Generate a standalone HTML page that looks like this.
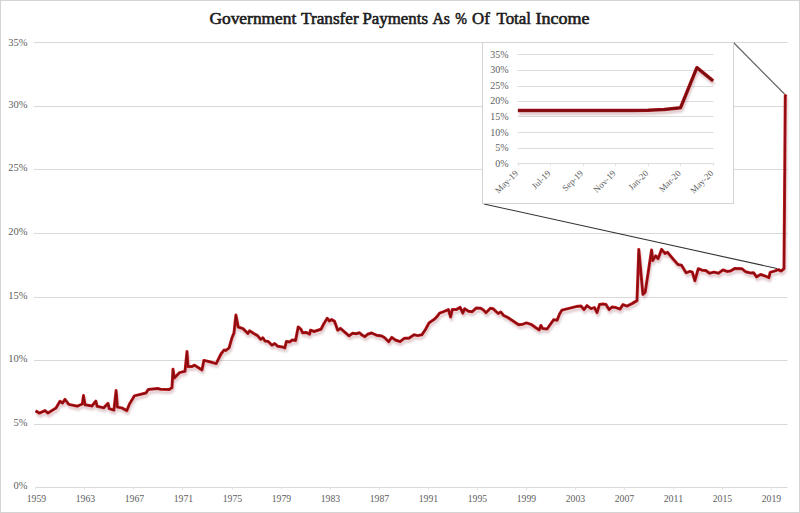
<!DOCTYPE html>
<html><head><meta charset="utf-8">
<style>
html,body{margin:0;padding:0;background:#fff;}
body{width:800px;height:513px;overflow:hidden;position:relative;}
svg{position:absolute;left:0;top:0;display:block;}
.t{font-family:"Liberation Serif",serif;font-weight:normal;font-size:16px;fill:#1a1a1a;stroke:#1a1a1a;stroke-width:0.55px;}
.yl{font-family:"Liberation Serif",serif;font-size:10.5px;fill:#606060;}
.xl{font-family:"Liberation Serif",serif;font-size:11px;fill:#606060;}
.iyl{font-family:"Liberation Serif",serif;font-size:10px;fill:#606060;}
.il{font-family:"Liberation Serif",serif;font-size:9px;fill:#606060;}
</style></head>
<body>
<svg width="800" height="513" viewBox="0 0 800 513">
<defs>
<filter id="sh" x="-5%" y="-5%" width="110%" height="120%">
<feGaussianBlur in="SourceAlpha" stdDeviation="1.3"/>
<feOffset dx="1" dy="2.5" result="b"/>
<feFlood flood-color="#b07880" flood-opacity="0.4"/>
<feComposite in2="b" operator="in"/>
<feMerge><feMergeNode/><feMergeNode in="SourceGraphic"/></feMerge>
</filter>
</defs>
<rect x="0.5" y="0.5" width="799" height="512" fill="#fff" stroke="#d4d4d4" stroke-width="1"/>
<text x="209.4" y="23.5" class="t" textLength="87" lengthAdjust="spacingAndGlyphs">Government</text>
<text x="301" y="23.5" class="t" textLength="57.7" lengthAdjust="spacingAndGlyphs">Transfer</text>
<text x="362.5" y="23.5" class="t" textLength="65.5" lengthAdjust="spacingAndGlyphs">Payments</text>
<text x="432.5" y="23.5" class="t" textLength="17.5" lengthAdjust="spacingAndGlyphs">As</text>
<text x="455.3" y="23.5" class="t" textLength="11.7" lengthAdjust="spacingAndGlyphs">%</text>
<text x="472" y="23.5" class="t" textLength="17.75" lengthAdjust="spacingAndGlyphs">Of</text>
<text x="496.5" y="23.5" class="t" textLength="34.5" lengthAdjust="spacingAndGlyphs">Total</text>
<text x="535.5" y="23.5" class="t" textLength="54" lengthAdjust="spacingAndGlyphs">Income</text>
<line x1="34" y1="424.5" x2="787.5" y2="424.5" stroke="#d9d9d9" stroke-width="1"/>
<line x1="34" y1="360.5" x2="787.5" y2="360.5" stroke="#d9d9d9" stroke-width="1"/>
<line x1="34" y1="297.5" x2="787.5" y2="297.5" stroke="#d9d9d9" stroke-width="1"/>
<line x1="34" y1="233.5" x2="787.5" y2="233.5" stroke="#d9d9d9" stroke-width="1"/>
<line x1="34" y1="169.5" x2="787.5" y2="169.5" stroke="#d9d9d9" stroke-width="1"/>
<line x1="34" y1="106.5" x2="787.5" y2="106.5" stroke="#d9d9d9" stroke-width="1"/>
<line x1="34" y1="42.5" x2="787.5" y2="42.5" stroke="#d9d9d9" stroke-width="1"/>
<line x1="35" y1="487.5" x2="787.5" y2="487.5" stroke="#d9d9d9" stroke-width="1"/>
<line x1="35.5" y1="487" x2="35.5" y2="490" stroke="#e6e6e6" stroke-width="1"/>
<line x1="84.5" y1="487" x2="84.5" y2="490" stroke="#e6e6e6" stroke-width="1"/>
<line x1="133.5" y1="487" x2="133.5" y2="490" stroke="#e6e6e6" stroke-width="1"/>
<line x1="182.5" y1="487" x2="182.5" y2="490" stroke="#e6e6e6" stroke-width="1"/>
<line x1="232.5" y1="487" x2="232.5" y2="490" stroke="#e6e6e6" stroke-width="1"/>
<line x1="281.5" y1="487" x2="281.5" y2="490" stroke="#e6e6e6" stroke-width="1"/>
<line x1="330.5" y1="487" x2="330.5" y2="490" stroke="#e6e6e6" stroke-width="1"/>
<line x1="379.5" y1="487" x2="379.5" y2="490" stroke="#e6e6e6" stroke-width="1"/>
<line x1="428.5" y1="487" x2="428.5" y2="490" stroke="#e6e6e6" stroke-width="1"/>
<line x1="477.5" y1="487" x2="477.5" y2="490" stroke="#e6e6e6" stroke-width="1"/>
<line x1="526.5" y1="487" x2="526.5" y2="490" stroke="#e6e6e6" stroke-width="1"/>
<line x1="575.5" y1="487" x2="575.5" y2="490" stroke="#e6e6e6" stroke-width="1"/>
<line x1="624.5" y1="487" x2="624.5" y2="490" stroke="#e6e6e6" stroke-width="1"/>
<line x1="673.5" y1="487" x2="673.5" y2="490" stroke="#e6e6e6" stroke-width="1"/>
<line x1="722.5" y1="487" x2="722.5" y2="490" stroke="#e6e6e6" stroke-width="1"/>
<line x1="771.5" y1="487" x2="771.5" y2="490" stroke="#e6e6e6" stroke-width="1"/>
<text x="27.5" y="489.4" text-anchor="end" class="yl">0%</text>
<text x="27.5" y="426.4" text-anchor="end" class="yl">5%</text>
<text x="27.5" y="362.4" text-anchor="end" class="yl">10%</text>
<text x="27.5" y="299.4" text-anchor="end" class="yl">15%</text>
<text x="27.5" y="235.4" text-anchor="end" class="yl">20%</text>
<text x="27.5" y="171.4" text-anchor="end" class="yl">25%</text>
<text x="27.5" y="108.4" text-anchor="end" class="yl">30%</text>
<text x="27.5" y="45.7" text-anchor="end" class="yl">35%</text>
<text x="36.4" y="502.4" text-anchor="middle" class="xl" textLength="19.5" lengthAdjust="spacingAndGlyphs">1959</text>
<text x="85.4" y="502.4" text-anchor="middle" class="xl" textLength="19.5" lengthAdjust="spacingAndGlyphs">1963</text>
<text x="134.4" y="502.4" text-anchor="middle" class="xl" textLength="19.5" lengthAdjust="spacingAndGlyphs">1967</text>
<text x="183.4" y="502.4" text-anchor="middle" class="xl" textLength="19.5" lengthAdjust="spacingAndGlyphs">1971</text>
<text x="232.4" y="502.4" text-anchor="middle" class="xl" textLength="19.5" lengthAdjust="spacingAndGlyphs">1975</text>
<text x="281.4" y="502.4" text-anchor="middle" class="xl" textLength="19.5" lengthAdjust="spacingAndGlyphs">1979</text>
<text x="330.4" y="502.4" text-anchor="middle" class="xl" textLength="19.5" lengthAdjust="spacingAndGlyphs">1983</text>
<text x="379.4" y="502.4" text-anchor="middle" class="xl" textLength="19.5" lengthAdjust="spacingAndGlyphs">1987</text>
<text x="428.4" y="502.4" text-anchor="middle" class="xl" textLength="19.5" lengthAdjust="spacingAndGlyphs">1991</text>
<text x="477.4" y="502.4" text-anchor="middle" class="xl" textLength="19.5" lengthAdjust="spacingAndGlyphs">1995</text>
<text x="526.4" y="502.4" text-anchor="middle" class="xl" textLength="19.5" lengthAdjust="spacingAndGlyphs">1999</text>
<text x="575.4" y="502.4" text-anchor="middle" class="xl" textLength="19.5" lengthAdjust="spacingAndGlyphs">2003</text>
<text x="624.4" y="502.4" text-anchor="middle" class="xl" textLength="19.5" lengthAdjust="spacingAndGlyphs">2007</text>
<text x="673.4" y="502.4" text-anchor="middle" class="xl" textLength="19.5" lengthAdjust="spacingAndGlyphs">2011</text>
<text x="722.4" y="502.4" text-anchor="middle" class="xl" textLength="19.5" lengthAdjust="spacingAndGlyphs">2015</text>
<text x="771.4" y="502.4" text-anchor="middle" class="xl" textLength="19.5" lengthAdjust="spacingAndGlyphs">2019</text>
<g filter="url(#sh)"><path d="M35.6,410.9 L39.4,413.1 L45.0,410.6 L48.0,413.1 L56.0,408.1 L60.0,401.2 L62.5,403.1 L65.0,399.4 L68.8,404.4 L77.5,406.2 L82.3,404.0 L83.5,395.6 L85.0,404.8 L92.0,406.0 L95.8,401.1 L97.1,406.3 L103.7,407.9 L108.0,403.4 L109.2,408.6 L113.9,410.2 L116.1,390.6 L117.4,407.1 L121.7,407.9 L126.8,410.6 L129.5,404.0 L133.0,398.2 L134.4,395.9 L146.0,393.0 L148.4,389.4 L157.7,388.5 L160.5,389.2 L169.4,389.4 L172.0,387.6 L173.0,369.2 L174.2,378.1 L179.6,372.6 L185.0,371.3 L187.0,351.6 L188.0,366.6 L191.8,366.6 L194.6,365.2 L202.0,369.9 L203.9,360.4 L209.6,361.7 L216.2,363.6 L221.0,354.0 L224.0,350.1 L226.0,350.4 L229.1,347.9 L231.8,338.3 L234.0,332.9 L235.9,315.1 L238.2,327.0 L243.0,328.6 L247.9,333.5 L249.5,330.8 L253.8,333.5 L257.5,335.6 L260.7,339.4 L262.9,337.8 L265.0,341.0 L268.2,341.5 L272.0,345.3 L274.7,343.6 L277.9,346.3 L282.2,346.9 L284.8,347.9 L286.4,341.5 L289.7,342.0 L292.3,339.9 L295.6,340.4 L298.2,327.0 L300.9,329.2 L302.6,332.8 L306.1,332.4 L309.6,334.1 L310.5,330.2 L314.0,331.5 L321.0,329.3 L323.7,324.0 L327.2,318.3 L329.4,321.0 L331.6,319.6 L334.6,321.4 L337.7,330.2 L340.4,328.4 L349.1,335.9 L352.6,333.2 L356.1,333.7 L359.6,332.8 L361.4,334.6 L364.9,336.7 L367.6,334.3 L371.6,333.0 L376.4,335.2 L381.7,336.0 L384.7,337.8 L388.7,341.7 L391.8,337.4 L395.3,340.0 L400.1,341.7 L404.5,338.2 L408.9,338.2 L414.1,334.7 L417.6,335.6 L422.0,334.7 L425.5,329.5 L429.0,322.9 L431.7,321.1 L434.4,319.2 L437.0,316.6 L439.6,313.1 L443.1,311.8 L448.4,309.6 L450.6,317.0 L452.3,309.6 L456.2,309.6 L460.2,307.4 L462.8,313.1 L464.6,308.7 L468.5,311.3 L472.0,311.8 L476.4,307.9 L480.7,308.3 L483.4,310.0 L486.0,312.7 L490.4,308.3 L493.0,308.7 L498.2,313.5 L500.7,312.0 L503.7,315.5 L508.1,317.7 L513.4,321.2 L518.6,324.7 L523.0,324.2 L526.5,322.9 L531.7,324.7 L535.2,327.3 L539.2,329.9 L540.9,325.5 L542.7,328.6 L547.1,329.0 L549.2,326.0 L553.6,319.8 L557.1,320.3 L559.7,313.7 L561.9,310.2 L564.0,309.6 L570.0,308.1 L576.0,306.6 L581.0,306.1 L584.0,309.6 L587.0,305.6 L591.0,308.6 L594.5,307.6 L597.0,312.6 L599.5,304.6 L603.0,304.1 L606.0,304.6 L609.0,309.6 L612.0,307.1 L616.0,307.6 L620.0,309.1 L623.0,304.6 L627.0,306.1 L632.0,303.6 L637.0,300.6 L638.8,249.4 L642.9,294.4 L645.2,292.1 L651.6,250.0 L652.8,260.5 L655.7,255.8 L658.1,258.7 L661.6,249.4 L665.1,253.5 L667.4,252.3 L673.3,259.3 L678.0,264.6 L681.5,265.2 L686.1,272.8 L690.0,271.4 L692.3,272.1 L694.9,280.7 L698.3,268.7 L702.0,270.2 L705.8,270.6 L709.5,273.2 L714.0,272.1 L718.5,273.2 L723.0,269.9 L726.8,271.4 L730.5,271.0 L735.0,268.4 L741.8,268.7 L745.5,271.7 L751.0,273.1 L753.7,272.8 L756.5,276.9 L760.6,274.5 L765.4,276.2 L768.9,277.6 L770.2,272.4 L774.4,271.1 L778.5,269.7 L781.2,271.1 L784.0,268.7 L785.3,95.4 L786.2,96.6" fill="none" stroke="#bd161c" stroke-width="3.0" stroke-linejoin="round"/>
<path d="M35.6,410.9 L39.4,413.1 L45.0,410.6 L48.0,413.1 L56.0,408.1 L60.0,401.2 L62.5,403.1 L65.0,399.4 L68.8,404.4 L77.5,406.2 L82.3,404.0 L83.5,395.6 L85.0,404.8 L92.0,406.0 L95.8,401.1 L97.1,406.3 L103.7,407.9 L108.0,403.4 L109.2,408.6 L113.9,410.2 L116.1,390.6 L117.4,407.1 L121.7,407.9 L126.8,410.6 L129.5,404.0 L133.0,398.2 L134.4,395.9 L146.0,393.0 L148.4,389.4 L157.7,388.5 L160.5,389.2 L169.4,389.4 L172.0,387.6 L173.0,369.2 L174.2,378.1 L179.6,372.6 L185.0,371.3 L187.0,351.6 L188.0,366.6 L191.8,366.6 L194.6,365.2 L202.0,369.9 L203.9,360.4 L209.6,361.7 L216.2,363.6 L221.0,354.0 L224.0,350.1 L226.0,350.4 L229.1,347.9 L231.8,338.3 L234.0,332.9 L235.9,315.1 L238.2,327.0 L243.0,328.6 L247.9,333.5 L249.5,330.8 L253.8,333.5 L257.5,335.6 L260.7,339.4 L262.9,337.8 L265.0,341.0 L268.2,341.5 L272.0,345.3 L274.7,343.6 L277.9,346.3 L282.2,346.9 L284.8,347.9 L286.4,341.5 L289.7,342.0 L292.3,339.9 L295.6,340.4 L298.2,327.0 L300.9,329.2 L302.6,332.8 L306.1,332.4 L309.6,334.1 L310.5,330.2 L314.0,331.5 L321.0,329.3 L323.7,324.0 L327.2,318.3 L329.4,321.0 L331.6,319.6 L334.6,321.4 L337.7,330.2 L340.4,328.4 L349.1,335.9 L352.6,333.2 L356.1,333.7 L359.6,332.8 L361.4,334.6 L364.9,336.7 L367.6,334.3 L371.6,333.0 L376.4,335.2 L381.7,336.0 L384.7,337.8 L388.7,341.7 L391.8,337.4 L395.3,340.0 L400.1,341.7 L404.5,338.2 L408.9,338.2 L414.1,334.7 L417.6,335.6 L422.0,334.7 L425.5,329.5 L429.0,322.9 L431.7,321.1 L434.4,319.2 L437.0,316.6 L439.6,313.1 L443.1,311.8 L448.4,309.6 L450.6,317.0 L452.3,309.6 L456.2,309.6 L460.2,307.4 L462.8,313.1 L464.6,308.7 L468.5,311.3 L472.0,311.8 L476.4,307.9 L480.7,308.3 L483.4,310.0 L486.0,312.7 L490.4,308.3 L493.0,308.7 L498.2,313.5 L500.7,312.0 L503.7,315.5 L508.1,317.7 L513.4,321.2 L518.6,324.7 L523.0,324.2 L526.5,322.9 L531.7,324.7 L535.2,327.3 L539.2,329.9 L540.9,325.5 L542.7,328.6 L547.1,329.0 L549.2,326.0 L553.6,319.8 L557.1,320.3 L559.7,313.7 L561.9,310.2 L564.0,309.6 L570.0,308.1 L576.0,306.6 L581.0,306.1 L584.0,309.6 L587.0,305.6 L591.0,308.6 L594.5,307.6 L597.0,312.6 L599.5,304.6 L603.0,304.1 L606.0,304.6 L609.0,309.6 L612.0,307.1 L616.0,307.6 L620.0,309.1 L623.0,304.6 L627.0,306.1 L632.0,303.6 L637.0,300.6 L638.8,249.4 L642.9,294.4 L645.2,292.1 L651.6,250.0 L652.8,260.5 L655.7,255.8 L658.1,258.7 L661.6,249.4 L665.1,253.5 L667.4,252.3 L673.3,259.3 L678.0,264.6 L681.5,265.2 L686.1,272.8 L690.0,271.4 L692.3,272.1 L694.9,280.7 L698.3,268.7 L702.0,270.2 L705.8,270.6 L709.5,273.2 L714.0,272.1 L718.5,273.2 L723.0,269.9 L726.8,271.4 L730.5,271.0 L735.0,268.4 L741.8,268.7 L745.5,271.7 L751.0,273.1 L753.7,272.8 L756.5,276.9 L760.6,274.5 L765.4,276.2 L768.9,277.6 L770.2,272.4 L774.4,271.1 L778.5,269.7 L781.2,271.1 L784.0,268.7 L785.3,95.4 L786.2,96.6" fill="none" stroke="#860c10" stroke-width="1.4" stroke-linejoin="round"/></g>
<line x1="733.5" y1="42.5" x2="784.5" y2="94" stroke="#666" stroke-width="1.2"/>
<line x1="484.0" y1="204.0" x2="777" y2="268.5" stroke="#333" stroke-width="1.1"/>
<rect x="482.5" y="42.5" width="251.0" height="161.0" fill="#fff" stroke="#d4d4d4" stroke-width="1"/>
<line x1="517.5" y1="148.5" x2="713.5" y2="148.5" stroke="#dcdcdc" stroke-width="1"/>
<line x1="517.5" y1="132.5" x2="713.5" y2="132.5" stroke="#dcdcdc" stroke-width="1"/>
<line x1="517.5" y1="116.5" x2="713.5" y2="116.5" stroke="#dcdcdc" stroke-width="1"/>
<line x1="517.5" y1="101.5" x2="713.5" y2="101.5" stroke="#dcdcdc" stroke-width="1"/>
<line x1="517.5" y1="86.5" x2="713.5" y2="86.5" stroke="#dcdcdc" stroke-width="1"/>
<line x1="517.5" y1="70.5" x2="713.5" y2="70.5" stroke="#dcdcdc" stroke-width="1"/>
<line x1="517.5" y1="54.5" x2="713.5" y2="54.5" stroke="#dcdcdc" stroke-width="1"/>
<line x1="517.5" y1="163.5" x2="713.5" y2="163.5" stroke="#dcdcdc" stroke-width="1"/>
<line x1="518.5" y1="163" x2="518.5" y2="166" stroke="#e0e0e0" stroke-width="1"/>
<text transform="translate(518.7,173.8) rotate(-45)" text-anchor="end" class="il">May-19</text>
<line x1="550.5" y1="163" x2="550.5" y2="166" stroke="#e0e0e0" stroke-width="1"/>
<text transform="translate(551.2,173.8) rotate(-45)" text-anchor="end" class="il">Jul-19</text>
<line x1="583.5" y1="163" x2="583.5" y2="166" stroke="#e0e0e0" stroke-width="1"/>
<text transform="translate(583.8,173.8) rotate(-45)" text-anchor="end" class="il">Sep-19</text>
<line x1="615.5" y1="163" x2="615.5" y2="166" stroke="#e0e0e0" stroke-width="1"/>
<text transform="translate(616.3,173.8) rotate(-45)" text-anchor="end" class="il">Nov-19</text>
<line x1="648.5" y1="163" x2="648.5" y2="166" stroke="#e0e0e0" stroke-width="1"/>
<text transform="translate(648.9,173.8) rotate(-45)" text-anchor="end" class="il">Jan-20</text>
<line x1="680.5" y1="163" x2="680.5" y2="166" stroke="#e0e0e0" stroke-width="1"/>
<text transform="translate(681.4,173.8) rotate(-45)" text-anchor="end" class="il">Mar-20</text>
<line x1="713.5" y1="163" x2="713.5" y2="166" stroke="#e0e0e0" stroke-width="1"/>
<text transform="translate(713.9,173.8) rotate(-45)" text-anchor="end" class="il">May-20</text>
<text x="508.5" y="166.6" text-anchor="end" class="iyl">0%</text>
<text x="508.5" y="151.0" text-anchor="end" class="iyl">5%</text>
<text x="508.5" y="135.5" text-anchor="end" class="iyl">10%</text>
<text x="508.5" y="119.9" text-anchor="end" class="iyl">15%</text>
<text x="508.5" y="104.3" text-anchor="end" class="iyl">20%</text>
<text x="508.5" y="88.8" text-anchor="end" class="iyl">25%</text>
<text x="508.5" y="73.2" text-anchor="end" class="iyl">30%</text>
<text x="508.5" y="57.6" text-anchor="end" class="iyl">35%</text>
<g filter="url(#sh)"><path d="M517.9,110.5 L534.2,110.5 L550.4,110.5 L566.7,110.5 L583.0,110.5 L599.2,110.5 L615.5,110.5 L631.8,110.5 L648.1,110.3 L664.3,109.5 L680.6,107.7 L696.9,67.7 L713.1,80.9" fill="none" stroke="#a81218" stroke-width="3.5" stroke-linejoin="round"/>
<path d="M517.9,110.5 L534.2,110.5 L550.4,110.5 L566.7,110.5 L583.0,110.5 L599.2,110.5 L615.5,110.5 L631.8,110.5 L648.1,110.3 L664.3,109.5 L680.6,107.7 L696.9,67.7 L713.1,80.9" fill="none" stroke="#7a0a0e" stroke-width="2.0" stroke-linejoin="round"/></g>
</svg>
</body></html>
